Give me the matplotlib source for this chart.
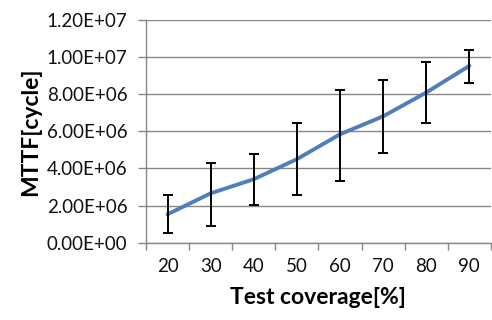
import matplotlib
matplotlib.use("Agg")
import matplotlib.pyplot as plt
import numpy as np

categories = ["20", "30", "40", "50", "60", "70", "80", "90"]
mttf = [1.53e6, 2.66e6, 3.42e6, 4.50e6, 5.84e6, 6.81e6, 8.09e6, 9.53e6]
err_low = [0.51e6, 0.90e6, 2.02e6, 2.59e6, 3.34e6, 4.85e6, 6.45e6, 8.61e6]
err_high = [2.55e6, 4.28e6, 4.80e6, 6.45e6, 8.22e6, 8.75e6, 9.76e6, 10.40e6]
yticks = [0, 2e6, 4e6, 6e6, 8e6, 1e7, 1.2e7]
ytick_labels = ["0.00E+00", "2.00E+06", "4.00E+06", "6.00E+06", "8.00E+06", "1.00E+07", "1.20E+07"]

plt.rcParams['font.family'] = ['Lato', 'DejaVu Sans']

fig = plt.figure(figsize=(4.92, 3.2), dpi=100)
ax = fig.add_axes([0.2967, 0.2416, 0.701, 0.6959])

x = np.arange(len(categories))
y = np.array(mttf)
lo = y - np.array(err_low)
hi = np.array(err_high) - y

ax.plot(x, y, color="#4F7FBB", lw=2.8, solid_capstyle="round", zorder=3)
ax.errorbar(x, y, yerr=[lo, hi], fmt="none", ecolor="black", elinewidth=1.4,
            capsize=3.5, capthick=1.4, zorder=4)

ax.set_xlim(-0.5, len(categories) - 0.5)
ax.set_ylim(0, 1.2e7)
ax.set_yticks(yticks)
ax.set_yticklabels(ytick_labels, fontsize=13.5, color="#111111")
ax.yaxis.grid(True, color="#878787", lw=1.0)
ax.set_axisbelow(True)

ax.set_xticks(np.arange(-0.5, len(categories), 1.0))
ax.set_xticklabels([])
ax.set_xticks(x, minor=True)
ax.set_xticklabels(categories, minor=True, fontsize=13.5, color="#111111")
ax.tick_params(axis="x", which="minor", length=0, pad=11)
ax.tick_params(axis="x", which="major", length=5, color="#878787", width=1.0, direction="out")
ax.tick_params(axis="y", length=5.8, color="#878787", width=1.0, direction="out", pad=7.5)

for s in ["top", "right"]:
    ax.spines[s].set_visible(False)
for s in ["left", "bottom"]:
    ax.spines[s].set_color("#878787")
    ax.spines[s].set_linewidth(1.0)

ax.set_xlabel("Test coverage[%]", fontsize=16.5, fontweight="bold", labelpad=9)
ax.set_ylabel("MTTF[cycle]", fontsize=16.5, fontweight="bold", labelpad=4)

fig.savefig("out.png", dpi=100)
